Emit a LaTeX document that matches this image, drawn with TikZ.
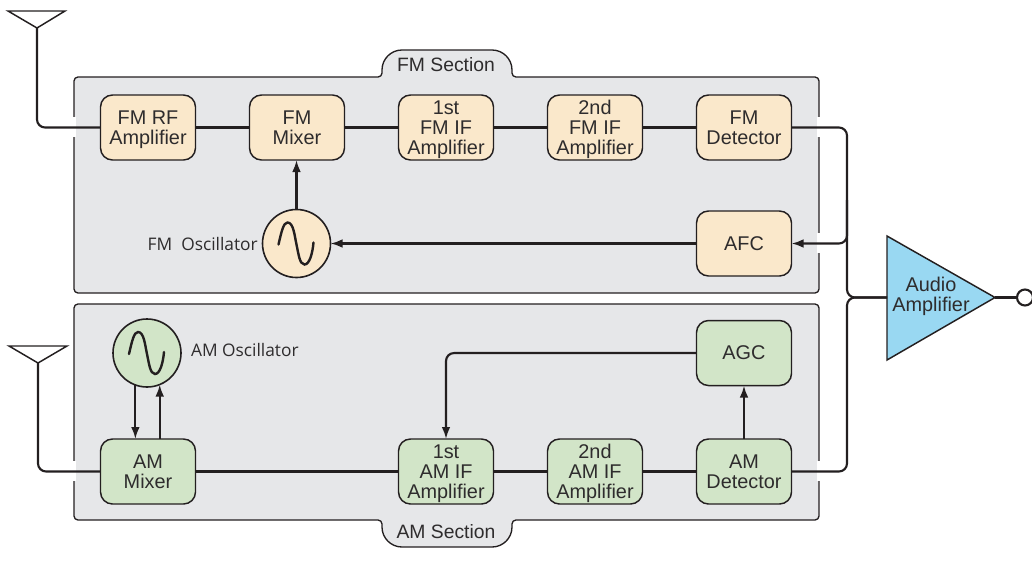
\documentclass[tikz,border=0pt]{standalone}
\usepackage{fontspec}
\setmainfont{Liberation Sans}
\newfontfamily\labelfont{Open Sans}
\usetikzlibrary{positioning, calc, arrows.meta}
\definecolor{panelgray}{HTML}{E6E7E9}
\definecolor{fmfill}{HTML}{FAE8CB}
\definecolor{amfill}{HTML}{D2E5C8}
\definecolor{ampfill}{HTML}{99D8F2}
\definecolor{inkblack}{HTML}{231F20}
\definecolor{textgray}{HTML}{2E2C2D}
\newcommand{\sinetrace}[1]{\draw[sinecurve, shift={(#1.center)}] (-18,1) .. controls (-15,-12) and (-13,-21) .. (-9,-21) .. controls (-3,-21) and (-2,-8) .. (0,1) .. controls (2,10) and (3,21) .. (8,21) .. controls (13,21) and (16,10) .. (17,-1);}

\begin{document}
\begin{tikzpicture}[x=0.75pt, y=-0.75pt,
block/.style={rectangle, draw=inkblack, line width=1.1pt, rounded corners=9pt, minimum width=71.25pt, minimum height=48.75pt, inner sep=0pt, outer sep=0pt, align=center, text depth=0pt, text=textgray, font=\fontsize{14.9}{15}\selectfont},
fmblock/.style={block, fill=fmfill},
amblock/.style={block, fill=amfill},
osc/.style={circle, draw=inkblack, line width=1.2pt, minimum size=51pt, inner sep=0pt, outer sep=0pt},
panel/.style={draw=inkblack, line width=1pt, fill=panelgray},
tabtext/.style={text=textgray, font=\fontsize{14.5}{15}\selectfont},
osctext/.style={text=textgray, font=\labelfont\fontsize{13}{14}\selectfont},
wire/.style={draw=inkblack, line width=1.6pt},
arrowwire/.style={wire, -{Latex[length=9pt, width=6.5pt]}},
aerial/.style={draw=inkblack, line width=1.1pt, fill=white},
sinecurve/.style={draw=inkblack, line width=1.8pt, line cap=round},
gapmark/.style={draw=white, line width=2.4pt}]

\useasboundingbox (0,0) rectangle (1032,582);

% Panels

\draw[panel, rounded corners=3pt] (74,77) -- (382,77) [rounded corners=15pt] -- (382,50) -- (512,50) [rounded corners=3pt] -- (512,77) -- (819,77) -- (819,293) -- (74,293) -- cycle;
\draw[panel, rounded corners=3pt] (74,304) -- (819,304) -- (819,520) -- (512,520) [rounded corners=15pt] -- (512,547) -- (382,547) [rounded corners=3pt] -- (382,520) -- (74,520) -- cycle;

\foreach \gapx/\gapy in {74/127, 819/127, 819/243, 74/471, 819/471}
	\draw[gapmark] (\gapx,\gapy-10) -- (\gapx,\gapy+10);

\node[tabtext] (fmtitle) at (446,64.5) {FM Section};
\node[tabtext] (amtitle) at (446,532) {AM Section};

% FM blocks

\node[fmblock] (fmrf) at (148,127.5) {FM RF\\Amplifier};
\node[fmblock, right=40.5pt of fmrf] (fmmix) {FM\\Mixer};
\node[fmblock, right=40.5pt of fmmix] (fmifone) {1st\\FM IF\\Amplifier};
\node[fmblock, right=40.5pt of fmifone] (fmiftwo) {2nd\\FM IF\\Amplifier};
\node[fmblock, right=40.5pt of fmiftwo] (fmdet) {FM\\Detector};
\node[fmblock, below=38.25pt of fmdet] (afc) {AFC};
\node[osc, fill=fmfill] (fmosc) at (296.5,243.5) {};
\node[osctext, left=0pt of fmosc] (fmosclabel) {FM\ \ Oscillator};

% AM blocks

\node[amblock] (ammix) at (148,471.5) {AM\\Mixer};
\node[amblock] (amifone) at (446,471.5) {1st\\AM IF\\Amplifier};
\node[amblock, right=40.5pt of amifone] (amiftwo) {2nd\\AM IF\\Amplifier};
\node[amblock, right=40.5pt of amiftwo] (amdet) {AM\\Detector};
\node[amblock, above=40.1pt of amdet] (agc) {AGC};
\node[osc, fill=amfill] (amosc) at (147,353) {};
\node[osctext, right=4pt of amosc, yshift=2pt] (amosclabel) {AM Oscillator};

\sinetrace{fmosc}
\sinetrace{amosc}

% Audio amplifier and output

\coordinate (ampin) at (887,297.5);
\coordinate (ampout) at (995,297.5);
\coordinate (busfm) at (847,297.5);
\coordinate (busafc) at (847,200);
\draw[draw=inkblack, line width=1.1pt, fill=ampfill, line join=miter] (887,236) -- (ampout) -- (887,360) -- cycle;
\node[block, draw=none, rounded corners=0pt, minimum width=0pt, minimum height=0pt] (amplabel) at (931,294.5) {Audio\\Amplifier};
\node[circle, draw=inkblack, line width=1.6pt, fill=white, minimum size=12pt, inner sep=0pt] (outjack) at (1025,297.5) {};

% Aerials

\coordinate (fmaerial) at (37,28);
\coordinate (amaerial) at (38,363);
\draw[aerial] (fmaerial) -- ++(-29,-17) -- ++(57,0) -- cycle;
\draw[aerial] (amaerial) -- ++(-29,-17) -- ++(58,0) -- cycle;

% Signal paths

\draw[wire, rounded corners=6pt] (fmaerial) |- (fmrf);
\draw[wire, rounded corners=6pt] (amaerial) |- (ammix);
\draw[wire] (fmrf) -- (fmmix) -- (fmifone) -- (fmiftwo) -- (fmdet);
\draw[wire] (ammix) -- (amifone) -- (amiftwo) -- (amdet);
\draw[wire, rounded corners=6pt] (fmdet) -- (fmdet -| busfm) -- (busfm) -- (ampin);
\draw[wire, rounded corners=6pt] (amdet) -- (amdet -| busfm) -- (busfm) -- (ampin);
\draw[arrowwire, rounded corners=6pt] (busafc) -- (afc -| busafc) -- (afc);
\draw[arrowwire] (afc) -- (fmosc);
\draw[arrowwire] (fmosc) -- (fmosc |- fmmix.south);
\draw[arrowwire] (amdet) -- (agc);
\draw[arrowwire, rounded corners=6pt] (agc) -| (amifone.north);
\draw[arrowwire] (amosc.-110) -- (amosc.-110 |- ammix.north);
\draw[arrowwire] (ammix.north -| amosc.-68) -- (amosc.-68);
\draw[wire] (ampout) -- (outjack);

\end{tikzpicture}
\end{document}
